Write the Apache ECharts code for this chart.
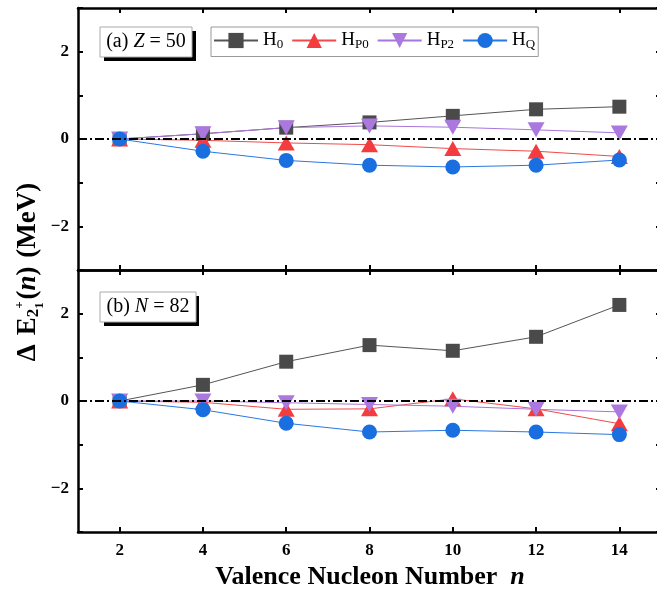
<!DOCTYPE html>
<html>
<head>
<meta charset="utf-8">
<script src="https://cdn.jsdelivr.net/npm/echarts@6/dist/echarts.min.js"></script>
<style>html,body{margin:0;padding:0;background:#fff;overflow:hidden;}#c{width:670px;height:592px;}</style>
</head>
<body>
<div id="c"></div>
<script>
// ---- data ----
const nValues = [2, 4, 6, 8, 10, 12, 14];
const xTicks = [2, 4, 6, 8, 10, 12, 14];
const yTicks = [-3, -2, -1, 0, 1, 2, 3];
const yLabels = [-2, 0, 2];
const seriesNames = ['H0', 'HP0', 'HP2', 'HQ'];
// panel (a) Z = 50
const aH0  = [0, 0.12, 0.26, 0.38, 0.53, 0.68, 0.74];
const aHP0 = [0, -0.03, -0.09, -0.13, -0.22, -0.28, -0.40];
const aHP2 = [0, 0.12, 0.26, 0.30, 0.27, 0.21, 0.14];
const aHQ  = [0, -0.28, -0.49, -0.60, -0.64, -0.60, -0.48];
// panel (b) N = 82
const bH0  = [0, 0.37, 0.90, 1.28, 1.15, 1.47, 2.20];
const bHP0 = [0, -0.03, -0.19, -0.18, 0.05, -0.18, -0.52];
const bHP2 = [0, 0, -0.04, -0.08, -0.12, -0.19, -0.25];
const bHQ  = [0, -0.20, -0.51, -0.71, -0.67, -0.71, -0.77];

const SERIF = '"Liberation Serif","Times New Roman",serif';
const styles = {
  H0:  {color: '#4a4a4a', line: '#555555', symbol: 'rect', size: 14, rotate: 0},
  HP0: {color: '#f23c3f', line: '#f04a4a', symbol: 'triangle', size: [17, 15], rotate: 0},
  HP2: {color: '#ab78df', line: '#a875dc', symbol: 'triangle', size: [17, 15], rotate: 180},
  HQ:  {color: '#1a6fe0', line: '#2a78e2', symbol: 'circle', size: 15, rotate: 0}
};

function pairs(ys) { return nValues.map((x, i) => [x, ys[i]]); }

function mkSeries(name, ys, gi, withZero) {
  const st = styles[name];
  const s = {
    name: name, type: 'line', xAxisIndex: gi * 2, yAxisIndex: gi * 2,
    data: pairs(ys), symbol: st.symbol, symbolSize: st.size, symbolRotate: st.rotate,
    itemStyle: {color: st.color}, lineStyle: {color: st.line, width: 1},
    animation: false, clip: false
  };
  if (withZero) {
    s.markLine = {
      silent: true, symbol: 'none', animation: false,
      label: {show: false},
      lineStyle: {color: '#000', type: [9, 3, 2, 3], width: 2},
      data: [{yAxis: 0}]
    };
  }
  return s;
}

const axLine = {show: true, onZero: false, lineStyle: {color: '#000', width: 2.5}};
function xAx(gi, pos, labels) {
  return {
    type: 'value', gridIndex: gi, position: pos, min: 1, max: 15,
    axisLine: axLine,
    axisTick: {show: true, inside: true, length: 5, lineStyle: {width: 2, color: '#000'}, customValues: xTicks},
    axisLabel: {show: labels, customValues: xTicks, margin: 10, color: '#000', fontSize: 17, fontWeight: 'bold', fontFamily: SERIF},
    splitLine: {show: false}
  };
}
function yAx(gi, pos, labels) {
  return {
    type: 'value', gridIndex: gi, position: pos, min: -3, max: 3,
    axisLine: axLine,
    axisTick: {show: true, inside: true, length: 5, lineStyle: {width: 2, color: '#000'}, customValues: yTicks},
    axisLabel: {show: labels, customValues: yLabels, margin: 9, color: '#000', fontSize: 17, fontWeight: 'bold', fontFamily: SERIF,
      formatter: v => v < 0 ? '\u2212' + Math.abs(v) : String(v)},
    splitLine: {show: false}
  };
}

// text measurement for the rotated y title layout
const mctx = document.createElement('canvas').getContext('2d');
function tw(txt, font) { mctx.font = font; return mctx.measureText(txt).width; }

const F = 27;
const fMain = 'bold ' + F + 'px ' + SERIF;
const fIt = 'italic bold ' + F + 'px ' + SERIF;
const fSub = 'bold 17px ' + SERIF;
const fSS = 'bold 13px ' + SERIF;
let xp = 0;
const yt = [];
function piece(txt, font, dy) {
  yt.push({type: 'text', x: xp, y: dy, style: {text: txt, font: font, fill: '#000', align: 'left', verticalAlign: 'middle'}});
  return tw(txt, font);
}
xp += piece('\u0394', fMain, 0);
xp += 9;
xp += piece('E', fMain, 0);
xp += piece('2', fSub, 6);
const sx = xp;
const w1 = piece('+', fSS, -8);
yt.push({type: 'text', x: sx, y: 12, style: {text: '1', font: fSS, fill: '#000', align: 'left', verticalAlign: 'middle'}});
xp = sx + Math.max(w1, tw('1', fSS)) + 2;
xp += piece('(', fMain, 0);
xp += piece('n', fIt, 0);
xp += piece(')', fMain, 0);
xp += 2;
xp += piece(' (MeV)', fMain, 0);
const titleW = xp;

const chart = echarts.init(document.getElementById('c'), null, {renderer: 'canvas'});
chart.setOption({
  backgroundColor: '#fff',
  animation: false,
  grid: [
    {left: 78, top: 8, width: 583, height: 262},
    {left: 78, top: 270, width: 583, height: 262}
  ],
  xAxis: [xAx(0, 'bottom', false), xAx(0, 'top', false), xAx(1, 'bottom', true), xAx(1, 'top', false)],
  yAxis: [yAx(0, 'left', true), yAx(0, 'right', false), yAx(1, 'left', true), yAx(1, 'right', false)],
  legend: {
    show: true, left: 211, top: 27, orient: 'horizontal',
    data: seriesNames,
    itemWidth: 44, itemHeight: 19, itemGap: 8,
    padding: [4, 3, 5, 2],
    borderColor: '#999', borderWidth: 1, backgroundColor: '#fff',
    formatter: function (name) { return '{h|H}{s|' + name.slice(1) + '}'; },
    textStyle: {
      color: '#000', fontFamily: SERIF,
      rich: {
        h: {fontSize: 19, fontFamily: SERIF, color: '#000', lineHeight: 22},
        s: {fontSize: 13, fontFamily: SERIF, color: '#000', lineHeight: 13, verticalAlign: 'bottom'}
      }
    }
  },
  series: [
    mkSeries('H0', aH0, 0, true), mkSeries('HP0', aHP0, 0, false), mkSeries('HP2', aHP2, 0, false), mkSeries('HQ', aHQ, 0, false),
    mkSeries('H0', bH0, 1, true), mkSeries('HP0', bHP0, 1, false), mkSeries('HP2', bHP2, 1, false), mkSeries('HQ', bHQ, 1, false)
  ],
  graphic: [
    {type: 'rect', shape: {x: 104, y: 31, width: 92, height: 30}, style: {fill: '#000'}, z: 10},
    {type: 'rect', shape: {x: 100, y: 27, width: 92, height: 30}, style: {fill: '#fff', stroke: '#aaa', lineWidth: 1}, z: 11},
    {type: 'text', x: 146, y: 42, z: 12, style: {text: '(a) {i|Z} = 50', fontSize: 20, fontFamily: SERIF, fill: '#000', align: 'center', verticalAlign: 'middle',
      rich: {i: {fontStyle: 'italic', fontSize: 20, fontFamily: SERIF}}}},
    {type: 'rect', shape: {x: 104, y: 296, width: 95, height: 30}, style: {fill: '#000'}, z: 10},
    {type: 'rect', shape: {x: 100, y: 292, width: 96, height: 30}, style: {fill: '#fff', stroke: '#aaa', lineWidth: 1}, z: 11},
    {type: 'text', x: 148, y: 307, z: 12, style: {text: '(b) {i|N} = 82', fontSize: 20, fontFamily: SERIF, fill: '#000', align: 'center', verticalAlign: 'middle',
      rich: {i: {fontStyle: 'italic', fontSize: 20, fontFamily: SERIF}}}},
    {type: 'text', x: 370, y: 577, z: 12, style: {text: 'Valence Nucleon Number  {i|n}', fontSize: 26, fontWeight: 'bold', fontFamily: SERIF, fill: '#000', align: 'center', verticalAlign: 'middle',
      rich: {i: {fontStyle: 'italic', fontWeight: 'bold', fontSize: 26, fontFamily: SERIF}}}},
    {type: 'group', x: 28, y: 272 + titleW / 2, rotation: Math.PI / 2, z: 12, children: yt}
  ]
});
</script>
</body>
</html>
